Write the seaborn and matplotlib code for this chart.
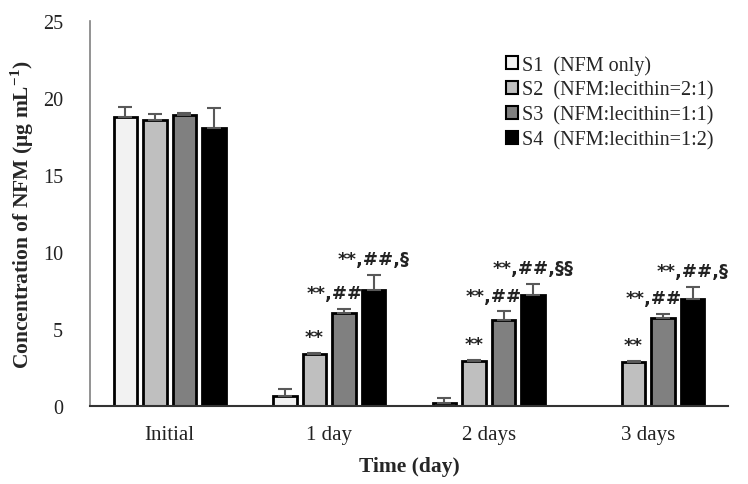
import pandas as pd
import seaborn as sns
import matplotlib.pyplot as plt
from matplotlib.patches import Patch

times = ["Initial", "1 day", "2 days", "3 days"]
series = ["S1", "S2", "S3", "S4"]
series_labels = ["S1  (NFM only)", "S2  (NFM:lecithin=2:1)",
                 "S3  (NFM:lecithin=1:1)", "S4  (NFM:lecithin=1:2)"]

s1 = [18.75, 0.62, 0.20, 0.0]
s2 = [18.55, 3.38, 2.94, 2.86]
s3 = [18.90, 6.04, 5.56, 5.71]
s4 = [18.07, 7.53, 7.23, 6.97]

s1_err = [0.65, 0.50, 0.35, 0.0]
s2_err = [0.40, 0.08, 0.03, 0.08]
s3_err = [0.12, 0.25, 0.58, 0.24]
s4_err = [1.26, 1.00, 0.72, 0.76]

# significance marks per series and time point
s2_marks = ["", "**", "**", "**"]
s3_marks = ["", "**,##", "**,##", "**,##"]
s4_marks = ["", "**,##,§", "**,##,§§", "**,##,§"]

colors = ["#f2f2f2", "#bfbfbf", "#808080", "#000000"]

rows = []
for name, vals, errs in zip(series, [s1, s2, s3, s4], [s1_err, s2_err, s3_err, s4_err]):
    for t, v, e in zip(times, vals, errs):
        rows.append({"Time": t, "Series": name, "Value": v, "Err": e})
df = pd.DataFrame(rows)

sns.set_style("white")
plt.rcParams["font.family"] = ["Liberation Serif", "DejaVu Serif"]
plt.rcParams["mathtext.fontset"] = "custom"
plt.rcParams["mathtext.rm"] = "Liberation Serif"
plt.rcParams["mathtext.bf"] = "Liberation Serif:bold"

fig = plt.figure(figsize=(7.48, 4.85), dpi=100)
ax = fig.add_axes([0.1203, 0.1608, 0.853, 0.7938])

sns.barplot(data=df, x="Time", y="Value", hue="Series", order=times,
            hue_order=series, palette=colors, width=0.74, gap=0.2,
            edgecolor="black", linewidth=2, errorbar=None, legend=False, ax=ax)

marks = [["", "", "", ""], s2_marks, s3_marks, s4_marks]
bar_conts = list(ax.containers)
for k, cont in enumerate(bar_conts):
    for j, bar in enumerate(cont):
        sub = df[(df.Series == series[k]) & (df.Time == times[j])].iloc[0]
        h = sub.Value
        if h == 0:
            bar.set_visible(False)
            continue
        cx = bar.get_x() + bar.get_width() / 2
        ax.errorbar(cx, h, yerr=[[0], [sub.Err]], fmt="none", ecolor="#595959",
                    elinewidth=1.5, capsize=5, capthick=1.5, zorder=1)
        txt = marks[k][j]
        if txt:
            dx = -7 if k == 2 else 0
            ax.annotate(txt, (cx, h + sub.Err), xytext=(dx, 5), textcoords="offset points",
                        ha="center", va="bottom", fontsize=13, fontweight="bold",
                        family=["DejaVu Sans"], color="#222222")

ax.set_ylim(0, 25)
ax.set_xlim(-0.5, 3.5)
ax.set_yticks([0, 5, 10, 15, 20, 25])
ax.tick_params(axis="both", length=0, colors="#222222")
ax.tick_params(axis="y", pad=19.5, labelsize=14.5)
ax.tick_params(axis="x", pad=14, labelsize=15)

for side in ["top", "right"]:
    ax.spines[side].set_visible(False)
ax.spines["left"].set_color("#808080")
ax.spines["left"].set_linewidth(1.2)
ax.spines["bottom"].set_color("#333333")
ax.spines["bottom"].set_linewidth(1.5)

ax.set_xlabel("Time (day)", fontsize=15.5, fontweight="bold", labelpad=8)
ax.set_ylabel(r"Concentration of NFM (μg mL$^{\mathbf{-1}}$)", fontsize=15.5,
              fontweight="bold", labelpad=5)

handles = [Patch(facecolor=c, edgecolor="black", linewidth=1.5) for c in colors]
ax.legend(handles, series_labels, loc="upper left", bbox_to_anchor=(0.6395, 0.932),
          frameon=False, fontsize=14.5, handlelength=0.6, handleheight=0.6,
          handletextpad=0.2, labelspacing=0.28, borderaxespad=0)

fig.savefig("out.png", dpi=100)
